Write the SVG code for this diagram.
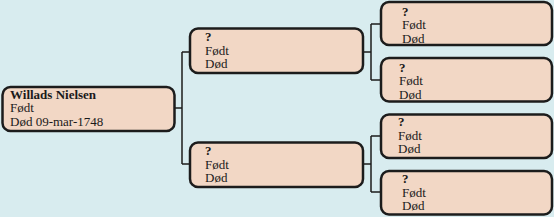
<svg xmlns="http://www.w3.org/2000/svg" width="554" height="217" viewBox="0 0 554 217">
<style>
.box{fill:#f2d7c5;stroke:#1c1c1c;stroke-width:2.5}
.t{font-family:"Liberation Serif","Times New Roman",serif;font-size:13px;fill:#1a1a1a}
.b{font-weight:bold}
.c{fill:none;stroke:#1c1c1c;stroke-width:1.5}
</style>
<rect x="0" y="0" width="554" height="217" fill="#d8ecef"/>
<g id="connectors">
<path class="c" d="M174,108 H182 M182,52 V164 M182,52 H190 M182,164 H190"/>
<path class="c" d="M363,52 H371 M371,24 V80 M371,24 H381 M371,80 H381"/>
<path class="c" d="M363,164 H371 M371,136 V192 M371,136 H381 M371,192 H381"/>
</g>
<g id="root">
<rect class="box" x="2.5" y="87" width="172" height="44" rx="8"/>
<text class="t" x="10" y="98.5"><tspan class="b">Willads Nielsen</tspan><tspan x="10" y="112">Født</tspan><tspan x="10" y="125.5">Død 09-mar-1748</tspan></text>
</g>
<g id="father">
<rect class="box" x="190" y="28.5" width="173" height="44.5" rx="8"/>
<text class="t" x="205" y="41"><tspan class="b">?</tspan><tspan x="205" y="54.5">Født</tspan><tspan x="205" y="68">Død</tspan></text>
</g>
<g id="mother">
<rect class="box" x="190" y="142.5" width="173" height="44.5" rx="8"/>
<text class="t" x="205" y="155"><tspan class="b">?</tspan><tspan x="205" y="168.5">Født</tspan><tspan x="205" y="182">Død</tspan></text>
</g>
<g id="ff">
<rect class="box" x="381" y="2" width="171" height="43" rx="8"/>
<text class="t" x="402" y="15.5"><tspan class="b">?</tspan><tspan x="402" y="29">Født</tspan><tspan x="402" y="42.5">Død</tspan></text>
</g>
<g id="fm">
<rect class="box" x="381" y="58" width="171" height="43.5" rx="8"/>
<text class="t" x="399" y="71.5"><tspan class="b">?</tspan><tspan x="399" y="85">Født</tspan><tspan x="399" y="98.5">Død</tspan></text>
</g>
<g id="mf">
<rect class="box" x="381" y="114.5" width="171" height="43.5" rx="8"/>
<text class="t" x="398" y="126"><tspan class="b">?</tspan><tspan x="398" y="139.5">Født</tspan><tspan x="398" y="153">Død</tspan></text>
</g>
<g id="mm">
<rect class="box" x="381" y="171" width="171" height="43.5" rx="8"/>
<text class="t" x="402" y="183"><tspan class="b">?</tspan><tspan x="402" y="196.5">Født</tspan><tspan x="402" y="210">Død</tspan></text>
</g>
</svg>
